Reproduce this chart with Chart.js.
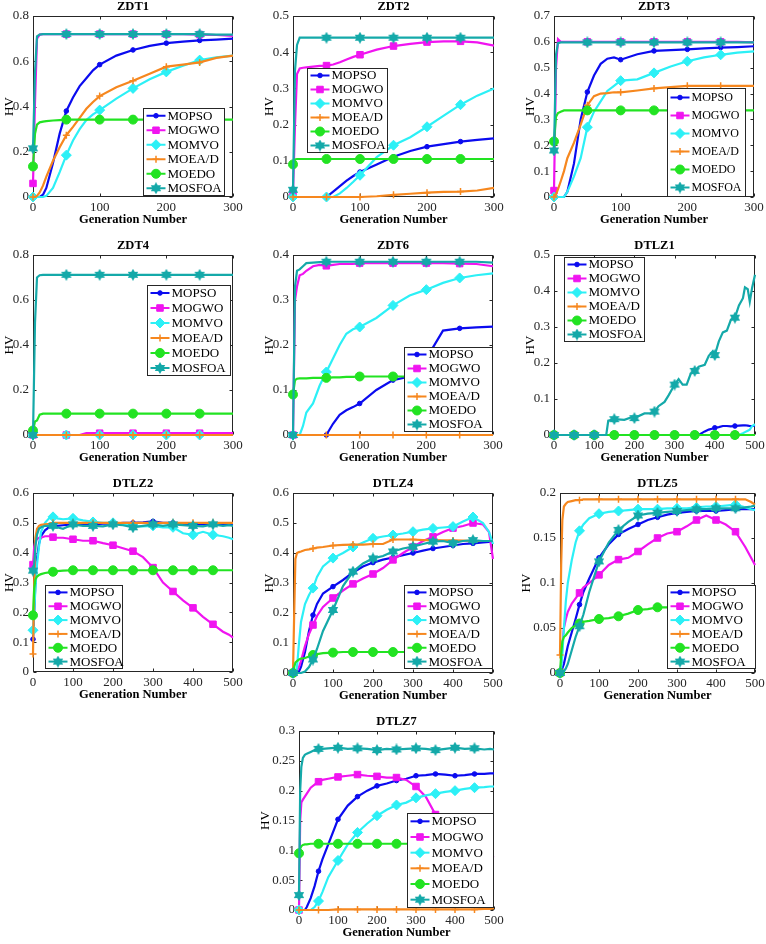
<!DOCTYPE html>
<html>
<head>
<meta charset="utf-8">
<script src="https://cdn.jsdelivr.net/npm/chart.js@4.4.0/dist/chart.umd.min.js"></script>
<style>
  body { margin: 0; background: #fff; width: 766px; height: 944px; position: relative; overflow: hidden; }
  canvas { position: absolute; }
</style>
</head>
<body>
<script>
// generation grids (x values)
const gen300 = [0, 3, 6, 10, 15, 20, 30, 40, 50, 60, 70, 80, 90, 100, 125, 150, 175, 200, 225, 250, 275, 300];
const gen500 = [0, 3, 6, 10, 15, 20, 30, 40, 50, 60, 75, 100, 125, 150, 175, 200, 225, 250, 275, 300, 325, 350, 375, 400, 425, 450, 475, 490, 500];
const dtlz1Gen = [0, 50, 100, 130, 135, 150, 175, 195, 200, 225, 240, 250, 260, 275, 285, 295, 300, 310, 320, 330, 340, 350, 360, 375, 385, 395, 400, 410, 420, 430, 440, 450, 460, 470, 475, 482, 487, 493, 500];

// ZDT1
const zdt1Mopso = [0, 0, 0, 0, 0.01, 0.04, 0.15, 0.28, 0.38, 0.44, 0.49, 0.525, 0.56, 0.585, 0.625, 0.65, 0.668, 0.68, 0.687, 0.692, 0.696, 0.7];
const zdt1Mogwo = [0.06, 0.42, 0.7, 0.718, 0.72, 0.72, 0.72, 0.72, 0.72, 0.72, 0.72, 0.72, 0.72, 0.72, 0.72, 0.72, 0.72, 0.72, 0.72, 0.718, 0.716, 0.712];
const zdt1Momvo = [0, 0, 0, 0, 0, 0.005, 0.04, 0.11, 0.185, 0.25, 0.3, 0.34, 0.365, 0.384, 0.435, 0.48, 0.52, 0.553, 0.58, 0.605, 0.617, 0.625];
const zdt1Moead = [0, 0, 0.005, 0.02, 0.05, 0.09, 0.16, 0.22, 0.273, 0.31, 0.35, 0.39, 0.42, 0.446, 0.485, 0.514, 0.545, 0.576, 0.585, 0.595, 0.615, 0.625];
const zdt1Moedo = [0.135, 0.28, 0.32, 0.33, 0.333, 0.335, 0.338, 0.34, 0.342, 0.342, 0.342, 0.342, 0.342, 0.342, 0.342, 0.342, 0.342, 0.342, 0.342, 0.342, 0.342, 0.342];
const zdt1Mosfoa = [0.215, 0.55, 0.71, 0.718, 0.72, 0.72, 0.72, 0.72, 0.72, 0.72, 0.72, 0.72, 0.72, 0.72, 0.72, 0.72, 0.72, 0.72, 0.72, 0.72, 0.718, 0.718];

// ZDT2
const zdt2Mopso = [0, 0, 0, 0, 0, 0, 0, 0, 0, 0.015, 0.03, 0.045, 0.058, 0.069, 0.09, 0.111, 0.127, 0.139, 0.146, 0.153, 0.158, 0.162];
const zdt2Mogwo = [0.01, 0.2, 0.34, 0.355, 0.357, 0.358, 0.36, 0.362, 0.363, 0.366, 0.372, 0.38, 0.387, 0.393, 0.407, 0.417, 0.423, 0.428, 0.43, 0.43, 0.427, 0.418];
const zdt2Momvo = [0, 0, 0, 0, 0, 0, 0, 0, 0, 0, 0.01, 0.025, 0.042, 0.06, 0.11, 0.143, 0.165, 0.194, 0.225, 0.255, 0.28, 0.3];
const zdt2Moead = [0, 0, 0, 0, 0, 0, 0, 0, 0, 0, 0, 0, 0, 0, 0.002, 0.006, 0.009, 0.012, 0.014, 0.015, 0.018, 0.025];
const zdt2Moedo = [0.09, 0.104, 0.105, 0.105, 0.105, 0.105, 0.105, 0.105, 0.105, 0.105, 0.105, 0.105, 0.105, 0.105, 0.105, 0.105, 0.105, 0.105, 0.105, 0.105, 0.105, 0.105];
const zdt2Mosfoa = [0.02, 0.35, 0.42, 0.44, 0.44, 0.44, 0.44, 0.44, 0.44, 0.44, 0.44, 0.44, 0.44, 0.44, 0.44, 0.44, 0.44, 0.44, 0.44, 0.44, 0.44, 0.44];

// ZDT3
const zdt3Mopso = [0, 0, 0, 0, 0, 0.02, 0.13, 0.3, 0.406, 0.47, 0.515, 0.535, 0.54, 0.531, 0.552, 0.565, 0.568, 0.571, 0.575, 0.578, 0.58, 0.583];
const zdt3Mogwo = [0.025, 0.5, 0.61, 0.6, 0.6, 0.6, 0.6, 0.6, 0.6, 0.6, 0.6, 0.6, 0.6, 0.6, 0.6, 0.6, 0.6, 0.6, 0.6, 0.6, 0.6, 0.598];
const zdt3Momvo = [0, 0, 0, 0, 0, 0.02, 0.08, 0.15, 0.27, 0.33, 0.37, 0.41, 0.43, 0.45, 0.455, 0.48, 0.505, 0.525, 0.54, 0.55, 0.558, 0.563];
const zdt3Moead = [0, 0.01, 0.03, 0.06, 0.1, 0.15, 0.21, 0.28, 0.355, 0.39, 0.4, 0.402, 0.405, 0.405, 0.412, 0.42, 0.425, 0.43, 0.43, 0.43, 0.43, 0.43];
const zdt3Moedo = [0.215, 0.31, 0.325, 0.33, 0.335, 0.335, 0.335, 0.335, 0.335, 0.335, 0.335, 0.335, 0.335, 0.335, 0.335, 0.335, 0.335, 0.335, 0.335, 0.335, 0.335, 0.335];
const zdt3Mosfoa = [0.18, 0.55, 0.595, 0.598, 0.598, 0.598, 0.598, 0.598, 0.598, 0.598, 0.598, 0.598, 0.598, 0.598, 0.598, 0.598, 0.598, 0.598, 0.598, 0.598, 0.598, 0.598];

// ZDT4
const zdt4Mopso = [0, 0, 0, 0, 0, 0, 0, 0, 0, 0, 0, 0, 0, 0, 0, 0, 0, 0, 0, 0, 0, 0];
const zdt4Mogwo = [0, 0, 0, 0, 0, 0, 0, 0, 0, 0, 0, 0.008, 0.008, 0.008, 0.008, 0.008, 0.008, 0.008, 0.008, 0.008, 0.008, 0.008];
const zdt4Momvo = [0, 0, 0, 0, 0, 0, 0, 0, 0, 0, 0, 0, 0, 0, 0, 0, 0, 0, 0, 0, 0, 0];
const zdt4Moead = [0, 0, 0, 0, 0, 0, 0, 0, 0, 0, 0, 0, 0, 0, 0, 0, 0, 0, 0, 0, 0, 0];
const zdt4Moedo = [0.02, 0.06, 0.065, 0.09, 0.095, 0.095, 0.095, 0.095, 0.095, 0.095, 0.095, 0.095, 0.095, 0.095, 0.095, 0.095, 0.095, 0.095, 0.095, 0.095, 0.095, 0.095];
const zdt4Mosfoa = [0, 0.5, 0.7, 0.71, 0.712, 0.712, 0.712, 0.712, 0.712, 0.712, 0.712, 0.712, 0.712, 0.712, 0.712, 0.712, 0.712, 0.712, 0.712, 0.712, 0.712, 0.712];

// ZDT6
const zdt6Mopso = [0, 0, 0, 0, 0, 0, 0, 0, 0, 0.025, 0.045, 0.055, 0.062, 0.07, 0.1, 0.122, 0.13, 0.17, 0.232, 0.237, 0.239, 0.241];
const zdt6Mogwo = [0, 0.3, 0.33, 0.355, 0.358, 0.365, 0.375, 0.378, 0.376, 0.378, 0.38, 0.38, 0.38, 0.382, 0.382, 0.382, 0.382, 0.382, 0.382, 0.381, 0.38, 0.375];
const zdt6Momvo = [0, 0, 0, 0, 0.02, 0.05, 0.07, 0.11, 0.14, 0.17, 0.2, 0.225, 0.235, 0.24, 0.26, 0.288, 0.31, 0.323, 0.338, 0.349, 0.355, 0.359];
const zdt6Moead = [0, 0, 0, 0, 0, 0, 0, 0, 0, 0, 0, 0, 0, 0, 0, 0, 0, 0, 0, 0, 0, 0];
const zdt6Moedo = [0.09, 0.122, 0.125, 0.126, 0.126, 0.126, 0.127, 0.127, 0.127, 0.128, 0.128, 0.129, 0.129, 0.13, 0.13, 0.13, 0.13, 0.13, 0.13, 0.13, 0.13, 0.13];
const zdt6Mosfoa = [0, 0.33, 0.365, 0.368, 0.375, 0.382, 0.383, 0.384, 0.385, 0.385, 0.385, 0.385, 0.385, 0.385, 0.385, 0.385, 0.385, 0.385, 0.385, 0.385, 0.385, 0.383];

// DTLZ1
const dtlz1Mopso = [0, 0, 0, 0, 0, 0, 0, 0, 0, 0, 0, 0, 0, 0, 0, 0, 0, 0, 0, 0, 0, 0, 0, 0.01, 0.015, 0.018, 0.02, 0.022, 0.025, 0.025, 0.024, 0.025, 0.026, 0.027, 0.027, 0.026, 0.025, 0.025, 0.025];
const dtlz1Mogwo = [0, 0, 0, 0, 0, 0, 0, 0, 0, 0, 0, 0, 0, 0, 0, 0, 0, 0, 0, 0, 0, 0, 0, 0, 0, 0, 0, 0, 0, 0, 0, 0, 0, 0, 0, 0, 0, 0, 0];
const dtlz1Momvo = [0, 0, 0, 0, 0, 0, 0, 0, 0, 0, 0, 0, 0, 0, 0, 0, 0, 0, 0, 0, 0, 0, 0, 0, 0, 0, 0, 0, 0, 0, 0, 0, 0, 0.005, 0.008, 0.012, 0.015, 0.025, 0.03];
const dtlz1Moead = [0, 0, 0, 0, 0, 0, 0, 0, 0, 0, 0, 0, 0, 0, 0, 0, 0, 0, 0, 0, 0, 0, 0, 0, 0, 0, 0, 0, 0, 0, 0, 0, 0, 0, 0, 0, 0, 0, 0];
const dtlz1Moedo = [0, 0, 0, 0, 0, 0, 0, 0, 0, 0, 0, 0, 0, 0, 0, 0, 0, 0, 0, 0, 0, 0, 0, 0, 0, 0, 0, 0, 0, 0, 0, 0, 0, 0, 0, 0, 0, 0, 0];
const dtlz1Mosfoa = [0, 0, 0, 0, 0.04, 0.044, 0.042, 0.05, 0.047, 0.06, 0.06, 0.065, 0.08, 0.092, 0.11, 0.13, 0.14, 0.155, 0.14, 0.14, 0.17, 0.178, 0.19, 0.195, 0.22, 0.233, 0.222, 0.26, 0.285, 0.29, 0.32, 0.326, 0.36, 0.38, 0.41, 0.405, 0.37, 0.41, 0.445];

// DTLZ2
const dtlz2Mopso = [0.11, 0.2, 0.3, 0.38, 0.43, 0.455, 0.475, 0.485, 0.49, 0.49, 0.492, 0.495, 0.495, 0.495, 0.497, 0.497, 0.5, 0.5, 0.502, 0.505, 0.5, 0.5, 0.497, 0.495, 0.495, 0.495, 0.495, 0.495, 0.495];
const dtlz2Mogwo = [0.36, 0.42, 0.44, 0.445, 0.45, 0.45, 0.455, 0.455, 0.452, 0.45, 0.45, 0.445, 0.44, 0.44, 0.432, 0.425, 0.415, 0.405, 0.385, 0.35, 0.3, 0.27, 0.24, 0.215, 0.185, 0.16, 0.135, 0.125, 0.115];
const dtlz2Momvo = [0.14, 0.2, 0.28, 0.36, 0.42, 0.47, 0.5, 0.515, 0.52, 0.515, 0.512, 0.515, 0.508, 0.503, 0.5, 0.5, 0.495, 0.49, 0.488, 0.49, 0.485, 0.485, 0.465, 0.46, 0.47, 0.46, 0.455, 0.45, 0.445];
const dtlz2Moead = [0.06, 0.3, 0.45, 0.48, 0.49, 0.493, 0.495, 0.497, 0.5, 0.5, 0.5, 0.5, 0.5, 0.5, 0.5, 0.5, 0.5, 0.5, 0.5, 0.5, 0.5, 0.5, 0.5, 0.5, 0.5, 0.5, 0.5, 0.5, 0.5];
const dtlz2Moedo = [0.19, 0.28, 0.31, 0.32, 0.325, 0.328, 0.332, 0.334, 0.336, 0.338, 0.34, 0.341, 0.341, 0.341, 0.341, 0.341, 0.341, 0.341, 0.341, 0.341, 0.341, 0.341, 0.341, 0.341, 0.341, 0.341, 0.341, 0.341, 0.341];
const dtlz2Mosfoa = [0.34, 0.36, 0.42, 0.46, 0.48, 0.485, 0.49, 0.49, 0.49, 0.485, 0.48, 0.495, 0.49, 0.49, 0.488, 0.495, 0.492, 0.485, 0.49, 0.495, 0.49, 0.495, 0.492, 0.49, 0.488, 0.495, 0.49, 0.492, 0.49];

// DTLZ4
const dtlz4Mopso = [0, 0, 0, 0, 0.005, 0.02, 0.07, 0.14, 0.193, 0.23, 0.265, 0.288, 0.31, 0.335, 0.355, 0.368, 0.378, 0.385, 0.393, 0.4, 0.408, 0.415, 0.42, 0.425, 0.43, 0.432, 0.435, 0.437, 0.437];
const dtlz4Mogwo = [0, 0, 0.005, 0.01, 0.02, 0.04, 0.09, 0.13, 0.16, 0.19, 0.22, 0.25, 0.275, 0.297, 0.315, 0.33, 0.35, 0.377, 0.4, 0.42, 0.44, 0.454, 0.47, 0.483, 0.49, 0.5, 0.495, 0.47, 0.38];
const dtlz4Momvo = [0, 0, 0, 0.02, 0.1, 0.17, 0.23, 0.26, 0.283, 0.32, 0.355, 0.383, 0.4, 0.42, 0.435, 0.449, 0.455, 0.46, 0.465, 0.471, 0.478, 0.482, 0.485, 0.488, 0.505, 0.52, 0.5, 0.47, 0.43];
const dtlz4Moead = [0, 0.2, 0.38, 0.4, 0.403, 0.405, 0.41, 0.412, 0.415, 0.418, 0.42, 0.425, 0.427, 0.428, 0.428, 0.43, 0.43, 0.445, 0.445, 0.445, 0.443, 0.443, 0.442, 0.442, 0.441, 0.44, 0.44, 0.44, 0.44];
const dtlz4Moedo = [0, 0.02, 0.035, 0.04, 0.045, 0.048, 0.05, 0.055, 0.06, 0.063, 0.066, 0.068, 0.07, 0.07, 0.07, 0.07, 0.07, 0.07, 0.07, 0.07, 0.07, 0.07, 0.07, 0.07, 0.07, 0.07, 0.07, 0.07, 0.07];
const dtlz4Mosfoa = [0, 0, 0, 0, 0, 0, 0.005, 0.02, 0.045, 0.08, 0.14, 0.21, 0.29, 0.338, 0.365, 0.382, 0.39, 0.405, 0.415, 0.421, 0.43, 0.438, 0.44, 0.433, 0.44, 0.443, 0.44, 0.44, 0.44];

// DTLZ5
const dtlz5Mopso = [0, 0, 0.005, 0.01, 0.02, 0.03, 0.045, 0.06, 0.076, 0.09, 0.105, 0.128, 0.143, 0.154, 0.16, 0.165, 0.17, 0.173, 0.176, 0.178, 0.179, 0.18, 0.18, 0.18, 0.181, 0.182, 0.182, 0.182, 0.182];
const dtlz5Mogwo = [0, 0.01, 0.03, 0.05, 0.06, 0.068, 0.077, 0.083, 0.089, 0.095, 0.1, 0.109, 0.12, 0.126, 0.128, 0.135, 0.143, 0.15, 0.155, 0.157, 0.163, 0.17, 0.175, 0.17, 0.165, 0.157, 0.14, 0.128, 0.12];
const dtlz5Momvo = [0, 0.005, 0.02, 0.05, 0.08, 0.1, 0.125, 0.145, 0.158, 0.165, 0.172, 0.177, 0.179, 0.18, 0.181, 0.182, 0.182, 0.182, 0.183, 0.183, 0.183, 0.184, 0.185, 0.185, 0.186, 0.187, 0.184, 0.182, 0.181];
const dtlz5Moead = [0.02, 0.12, 0.17, 0.185, 0.188, 0.19, 0.191, 0.192, 0.192, 0.193, 0.193, 0.193, 0.193, 0.193, 0.193, 0.193, 0.193, 0.193, 0.193, 0.193, 0.193, 0.193, 0.193, 0.193, 0.193, 0.193, 0.193, 0.19, 0.187];
const dtlz5Moedo = [0, 0.02, 0.035, 0.04, 0.042, 0.045, 0.05, 0.053, 0.055, 0.057, 0.058, 0.06, 0.061, 0.063, 0.066, 0.07, 0.071, 0.073, 0.073, 0.073, 0.074, 0.074, 0.074, 0.074, 0.074, 0.074, 0.074, 0.074, 0.074];
const dtlz5Mosfoa = [0, 0, 0, 0.002, 0.005, 0.01, 0.025, 0.04, 0.052, 0.065, 0.09, 0.124, 0.145, 0.159, 0.168, 0.175, 0.177, 0.178, 0.179, 0.18, 0.181, 0.182, 0.182, 0.183, 0.183, 0.183, 0.184, 0.185, 0.186];

// DTLZ7
const dtlz7Mopso = [0, 0, 0, 0, 0, 0.005, 0.02, 0.04, 0.065, 0.085, 0.11, 0.152, 0.175, 0.19, 0.2, 0.208, 0.212, 0.217, 0.22, 0.225, 0.226, 0.228, 0.227, 0.225, 0.226, 0.228, 0.228, 0.229, 0.229];
const dtlz7Mogwo = [0, 0.15, 0.18, 0.185, 0.19, 0.195, 0.205, 0.21, 0.215, 0.218, 0.22, 0.223, 0.225, 0.227, 0.225, 0.224, 0.222, 0.222, 0.218, 0.207, 0.19, 0.16, 0.14, 0.123, 0.11, 0.1, 0.094, 0.09, 0.088];
const dtlz7Momvo = [0, 0, 0, 0, 0, 0, 0, 0.005, 0.015, 0.03, 0.055, 0.083, 0.11, 0.13, 0.145, 0.158, 0.168, 0.176, 0.18, 0.188, 0.192, 0.195, 0.198, 0.2, 0.203, 0.205, 0.206, 0.207, 0.207];
const dtlz7Moead = [0, 0, 0, 0, 0, 0, 0, 0, 0, 0, 0, 0.001, 0.001, 0.001, 0.001, 0.001, 0.001, 0.001, 0.001, 0.001, 0.001, 0.001, 0.001, 0.001, 0.001, 0.001, 0.002, 0.002, 0.003];
const dtlz7Moedo = [0.095, 0.103, 0.107, 0.109, 0.11, 0.11, 0.111, 0.111, 0.111, 0.111, 0.111, 0.111, 0.111, 0.111, 0.111, 0.111, 0.111, 0.111, 0.111, 0.111, 0.111, 0.111, 0.111, 0.111, 0.111, 0.111, 0.111, 0.111, 0.111];
const dtlz7Mosfoa = [0.025, 0.2, 0.24, 0.255, 0.26, 0.262, 0.265, 0.268, 0.27, 0.27, 0.271, 0.272, 0.27, 0.271, 0.27, 0.268, 0.27, 0.269, 0.27, 0.271, 0.27, 0.268, 0.27, 0.272, 0.27, 0.271, 0.269, 0.27, 0.269];

const ALGOS = ['MOPSO', 'MOGWO', 'MOMVO', 'MOEA/D', 'MOEDO', 'MOSFOA'];
const COLORS = ['#0b0bef', '#f014f0', '#2cf0f6', '#f6871e', '#22e322', '#14a9a9'];
const FONT = '"Liberation Serif", "Times New Roman", serif';
const AXIS = '#262626';

function hexagram(color, size) {
    const c = document.createElement('canvas');
    c.width = c.height = size;
    const g = c.getContext('2d');
    const r = size / 2;
    g.fillStyle = color;
    [-Math.PI / 2, Math.PI / 2].forEach(rot => {
        g.beginPath();
        for (let k = 0; k < 3; k++) {
            const a = rot + k * 2 * Math.PI / 3;
            g.lineTo(r + r * Math.cos(a), r + r * Math.sin(a));
        }
        g.closePath();
        g.fill();
    });
    return c;
}
const hexImg = hexagram(COLORS[5], 12);

const MARKERS = [
    { style: 'circle', r: 2.3 },
    { style: 'rect', r: 4.6 },
    { style: 'rectRot', r: 5 },
    { style: 'cross', r: 3.5 },
    { style: 'circle', r: 4.5 },
    { style: hexImg, r: 6 }
];

function drawMarker(g, m, color, x, y) {
    g.save();
    g.fillStyle = color;
    g.strokeStyle = color;
    g.lineWidth = 1;
    g.beginPath();
    if (m.style === hexImg) {
        g.drawImage(hexImg, x - hexImg.width / 2, y - hexImg.height / 2);
    } else if (m.style === 'cross') {
        g.lineWidth = 1.5;
        g.moveTo(x - m.r, y); g.lineTo(x + m.r, y);
        g.moveTo(x, y - m.r); g.lineTo(x, y + m.r);
        g.stroke();
    } else {
        if (m.style === 'circle') g.arc(x, y, m.r, 0, Math.PI * 2);
        else if (m.style === 'rect') { const s = m.r * Math.SQRT1_2; g.rect(x - s, y - s, 2 * s, 2 * s); }
        else { g.moveTo(x, y - m.r); g.lineTo(x + m.r, y); g.lineTo(x, y + m.r); g.lineTo(x - m.r, y); g.closePath(); }
        g.fill(); g.stroke();
    }
    g.restore();
}

const panels = [
    { title: 'ZDT1', gen: gen300, series: [zdt1Mopso, zdt1Mogwo, zdt1Momvo, zdt1Moead, zdt1Moedo, zdt1Mosfoa], xMax: 300, yMax: 0.8, yStep: 0.2, plot: [33, 16, 200, 181], legend: [110, 92, 81, 87] },
    { title: 'ZDT2', gen: gen300, series: [zdt2Mopso, zdt2Mogwo, zdt2Momvo, zdt2Moead, zdt2Moedo, zdt2Mosfoa], xMax: 300, yMax: 0.5, yStep: 0.1, plot: [293, 16, 201, 181], legend: [14, 52, 80, 84] },
    { title: 'ZDT3', gen: gen300, series: [zdt3Mopso, zdt3Mogwo, zdt3Momvo, zdt3Moead, zdt3Moedo, zdt3Mosfoa], xMax: 300, yMax: 0.7, yStep: 0.1, plot: [554, 16, 200, 181], legend: [113, 72, 78, 108], legendFont: 12 },
    { title: 'ZDT4', gen: gen300, series: [zdt4Mopso, zdt4Mogwo, zdt4Momvo, zdt4Moead, zdt4Moedo, zdt4Mosfoa], xMax: 300, yMax: 0.8, yStep: 0.2, plot: [33, 255, 200, 180], legend: [114, 30, 83, 90] },
    { title: 'ZDT6', gen: gen300, series: [zdt6Mopso, zdt6Mogwo, zdt6Momvo, zdt6Moead, zdt6Moedo, zdt6Mosfoa], xMax: 300, yMax: 0.4, yStep: 0.1, plot: [293, 255, 200, 180], legend: [111, 92, 88, 84] },
    { title: 'DTLZ1', gen: dtlz1Gen, series: [dtlz1Mopso, dtlz1Mogwo, dtlz1Momvo, dtlz1Moead, dtlz1Moedo, dtlz1Mosfoa], xMax: 500, yMax: 0.5, yStep: 0.1, plot: [554, 255, 201, 180], legend: [10, 2, 80, 84] },
    { title: 'DTLZ2', gen: gen500, series: [dtlz2Mopso, dtlz2Mogwo, dtlz2Momvo, dtlz2Moead, dtlz2Moedo, dtlz2Mosfoa], xMax: 500, yMax: 0.6, yStep: 0.1, plot: [33, 493, 200, 179], legend: [12, 92, 77, 83] },
    { title: 'DTLZ4', gen: gen500, series: [dtlz4Mopso, dtlz4Mogwo, dtlz4Momvo, dtlz4Moead, dtlz4Moedo, dtlz4Mosfoa], xMax: 500, yMax: 0.6, yStep: 0.1, plot: [293, 493, 200, 180], legend: [111, 92, 88, 83] },
    { title: 'DTLZ5', gen: gen500, series: [dtlz5Mopso, dtlz5Mogwo, dtlz5Momvo, dtlz5Moead, dtlz5Moedo, dtlz5Mosfoa], xMax: 500, yMax: 0.2, yStep: 0.05, plot: [560, 493, 195, 180], legend: [107, 92, 88, 83], left: 43 },
    { title: 'DTLZ7', gen: gen500, series: [dtlz7Mopso, dtlz7Mogwo, dtlz7Momvo, dtlz7Moead, dtlz7Moedo, dtlz7Mosfoa], xMax: 500, yMax: 0.3, yStep: 0.05, plot: [299, 731, 195, 179], legend: [108, 82, 86, 94], left: 43 }
];

// box with inward ticks, panel title and the boxed legend
const panelDeco = {
    id: 'panelDeco',
    beforeDatasetsDraw(chart) {
        const { ctx, chartArea: a, scales: { x, y } } = chart;
        ctx.save();
        ctx.strokeStyle = AXIS;
        ctx.lineWidth = 1;
        const l = Math.round(a.left) + 0.5, t = Math.round(a.top) + 0.5;
        const r = Math.round(a.right) - 0.5, b = Math.round(a.bottom) - 0.5;
        ctx.strokeRect(l, t, r - l, b - t);
        ctx.beginPath();
        x.ticks.forEach(tk => {
            const px = Math.round(x.getPixelForValue(tk.value)) + 0.5;
            ctx.moveTo(px, b); ctx.lineTo(px, b - 3);
            ctx.moveTo(px, t); ctx.lineTo(px, t + 3);
        });
        y.ticks.forEach(tk => {
            const py = Math.round(y.getPixelForValue(tk.value)) + 0.5;
            ctx.moveTo(l, py); ctx.lineTo(l + 3, py);
            ctx.moveTo(r, py); ctx.lineTo(r - 3, py);
        });
        ctx.stroke();
        ctx.restore();
    },
    afterDatasetsDraw(chart, args, opts) {
        const { ctx, chartArea: a } = chart;
        const [lx, ly, lw, lh] = opts.box;
        const bx = Math.round(a.left + lx) + 0.5, by = Math.round(a.top + ly) + 0.5;
        ctx.save();
        ctx.fillStyle = '#fff';
        ctx.fillRect(bx, by, lw, lh);
        ctx.strokeStyle = AXIS;
        ctx.lineWidth = 1;
        ctx.strokeRect(bx, by, lw, lh);
        const rowH = lh / 6;
        ctx.font = opts.fontSize + 'px ' + FONT;
        ctx.textBaseline = 'middle';
        ctx.textAlign = 'left';
        chart.data.datasets.forEach((ds, i) => {
            const ry = by + rowH * (i + 0.5);
            ctx.strokeStyle = COLORS[i];
            ctx.lineWidth = 2;
            ctx.beginPath();
            ctx.moveTo(bx + 3, ry);
            ctx.lineTo(bx + 22, ry);
            ctx.stroke();
            drawMarker(ctx, MARKERS[i], COLORS[i], bx + 12.5, ry);
            ctx.fillStyle = '#000';
            ctx.fillText(ds.label, bx + 24, ry + 0.5);
        });
        ctx.restore();
    },
    afterDraw(chart, args, opts) {
        const { ctx, chartArea: a } = chart;
        ctx.save();
        ctx.font = 'bold 12.5px ' + FONT;
        ctx.fillStyle = '#000';
        ctx.textAlign = 'center';
        ctx.textBaseline = 'middle';
        ctx.fillText(opts.title, (a.left + a.right) / 2, a.top - 9);
        ctx.restore();
    }
};

function makePanel(p) {
    const [px, py, pw, ph] = p.plot;
    const L = p.left || 33, T = 16, R = 14, B = 32;
    const cv = document.createElement('canvas');
    cv.width = pw + L + R;
    cv.height = ph + T + B;
    cv.style.left = (px - L) + 'px';
    cv.style.top = (py - T) + 'px';
    cv.style.width = cv.width + 'px';
    cv.style.height = cv.height + 'px';
    document.body.appendChild(cv);

    const datasets = p.series.map((vals, i) => ({
        label: ALGOS[i],
        data: p.gen.map((g, k) => ({ x: g, y: vals[k] })),
        borderColor: COLORS[i],
        backgroundColor: COLORS[i],
        borderWidth: 2.2,
        tension: 0,
        pointStyle: MARKERS[i].style,
        pointBorderWidth: MARKERS[i].style === 'cross' ? 1.5 : 1,
        pointRadius: ctx => (ctx.raw && ctx.raw.x % 50 === 0 && ctx.raw.x < p.xMax ? MARKERS[i].r : 0),
        clip: 8,
        order: 5 - i
    }));

    const tickFont = { family: FONT, size: 13 };
    new Chart(cv, {
        type: 'line',
        data: { datasets: datasets },
        plugins: [panelDeco],
        options: {
            responsive: false,
            animation: false,
            devicePixelRatio: 1,
            events: [],
            layout: { padding: { top: T, right: R, left: 0, bottom: 0 } },
            plugins: {
                legend: { display: false },
                tooltip: { enabled: false },
                panelDeco: { title: p.title, box: p.legend, fontSize: p.legendFont || 13 }
            },
            scales: {
                x: {
                    type: 'linear',
                    min: 0,
                    max: p.xMax,
                    grid: { display: false, drawTicks: false },
                    border: { display: false },
                    ticks: { stepSize: 100, font: tickFont, color: AXIS, padding: 3, maxRotation: 0, autoSkip: false },
                    title: { display: true, text: 'Generation Number', color: '#000', font: { family: FONT, size: 12.5, weight: 'bold' }, padding: { top: 0, bottom: 2 } },
                    afterFit: s => { s.height = B; }
                },
                y: {
                    type: 'linear',
                    min: 0,
                    max: p.yMax,
                    grid: { display: false, drawTicks: false },
                    border: { display: false },
                    ticks: { stepSize: p.yStep, font: tickFont, color: AXIS, padding: 4, autoSkip: false, callback: v => String(+v.toFixed(3)) },
                    title: { display: true, text: 'HV', color: '#000', font: { family: FONT, size: 13 }, padding: { top: 2, bottom: 0 } },
                    afterFit: s => { s.width = L; }
                }
            }
        }
    });
}

panels.forEach(makePanel);
</script>
</body>
</html>
